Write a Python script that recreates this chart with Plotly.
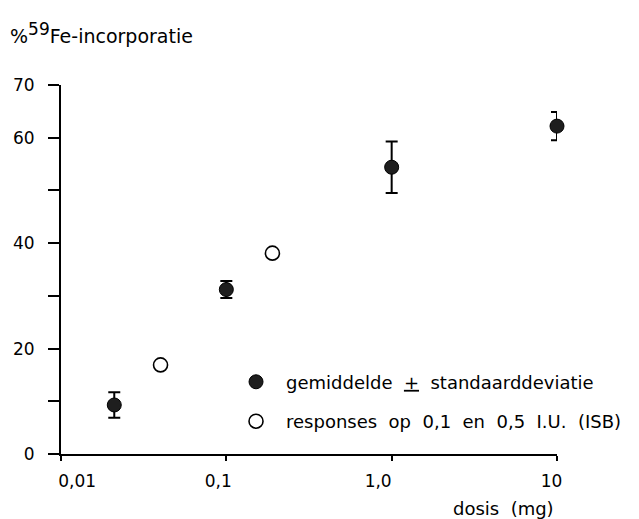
import plotly.graph_objects as go

# Data
dose_mean = [0.021, 0.1, 1.0, 10.0]
resp_mean = [9.3, 31.2, 54.4, 62.2]
resp_sd = [2.4, 1.6, 4.9, 2.7]

dose_isb = [0.04, 0.19]
resp_isb = [16.9, 38.1]

y_ticks = [0, 10, 20, 30, 40, 50, 60, 70]
y_ticktext = ["0", "", "20", "", "40", "", "60", "70"]
x_ticks = [0.01, 0.1, 1.0, 10.0]
NB = "\u00a0"
x_ticktext = [NB * 6 + "0,01", "0,1" + NB * 3, "1,0" + NB * 5, "10" + NB * 2]

FONT = "DejaVu Sans"

fig = go.Figure()
fig.add_trace(go.Scatter(
    x=dose_mean, y=resp_mean, mode="markers",
    name="gemiddelde" + NB * 2 + "<u>+</u>" + NB * 2 + "standaarddeviatie",
    legendgroup="a", cliponaxis=False,
    marker=dict(size=14, color="#1e1e1e", line=dict(color="black", width=1)),
    error_y=dict(type="data", array=resp_sd, visible=True, color="black",
                 thickness=2, width=6),
))
fig.add_trace(go.Scatter(
    x=dose_isb, y=resp_isb, mode="markers",
    name="responses" + NB * 2 + "op" + NB * 2 + "0,1" + NB * 2 + "en" + NB * 2
         + "0,5" + NB * 2 + "I.U." + NB * 2 + "(ISB)",
    legendgroup="b", cliponaxis=False,
    marker=dict(size=14, color="white", line=dict(color="black", width=1.6)),
))

fig.update_layout(
    width=639, height=519,
    margin=dict(l=61, r=82, t=85, b=65),
    paper_bgcolor="white", plot_bgcolor="white",
    font=dict(family=FONT, size=17, color="black"),
    showlegend=True,
    legend=dict(x=0.3327, y=0.245, xanchor="left", yanchor="top",
                font=dict(size=18), tracegroupgap=13,
                bgcolor="rgba(0,0,0,0)", itemwidth=50),
    xaxis=dict(type="log", range=[-2, 1], tickvals=x_ticks, ticktext=x_ticktext,
               showline=True, linecolor="black", linewidth=2,
               ticks="outside", ticklen=5, tickwidth=2, tickcolor="black",
               showgrid=False, zeroline=False, mirror=False,
               ticklabelstandoff=6, tickfont=dict(size=17)),
    yaxis=dict(range=[0, 70], tickvals=y_ticks, ticktext=y_ticktext,
               showline=True, linecolor="black", linewidth=2,
               ticks="outside", ticklen=11, tickwidth=2, tickcolor="black",
               showgrid=False, zeroline=False,
               ticklabelstandoff=10, tickfont=dict(size=17)),
    annotations=[
        dict(text="%<sup><span style='font-size:17px'>59</span></sup>Fe-incorporatie",
             xref="paper", yref="paper",
             x=-0.107, y=1.14, xanchor="left", yanchor="middle",
             showarrow=False, font=dict(size=19)),
        dict(text="dosis" + NB * 2 + "(mg)", xref="paper", yref="paper",
             x=0.998, y=-0.147, xanchor="right", yanchor="middle",
             showarrow=False, font=dict(size=18)),
    ],
)

fig.write_html("out.html")
